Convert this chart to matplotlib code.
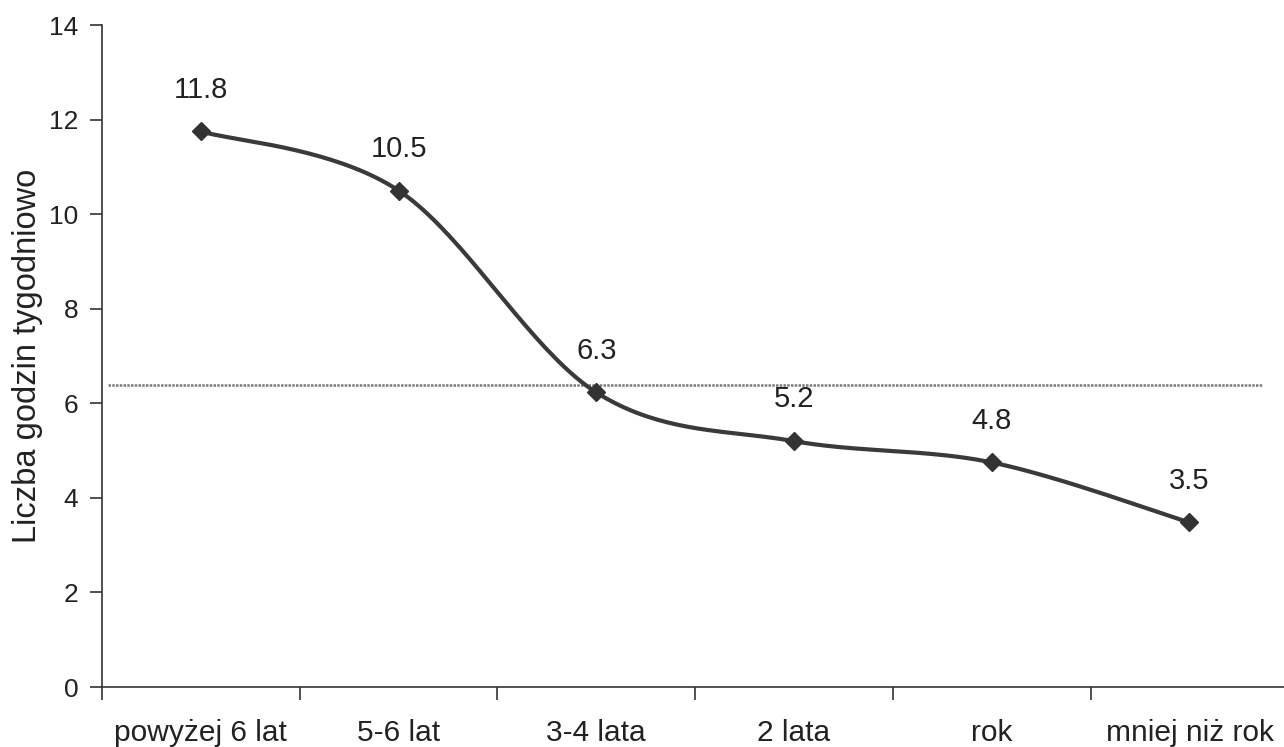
import numpy as np
import matplotlib
matplotlib.use("Agg")
from matplotlib import pyplot as plt

plt.rcParams['font.family'] = ['Liberation Sans', 'DejaVu Sans']

categories = ['powyżej 6 lat', '5-6 lat', '3-4 lata', '2 lata', 'rok', 'mniej niż rok']
values = [11.75, 10.5, 6.23, 5.2, 4.75, 3.48]
labels = ['11.8', '10.5', '6.3', '5.2', '4.8', '3.5']
ref_level = 6.38

# smoothed line like a spreadsheet chart (catmull-rom as bezier)
def smooth(xs, ys, n=40):
    pts = np.column_stack([xs, ys]).astype(float)
    out = []
    for i in range(len(pts) - 1):
        p0 = pts[i - 1] if i > 0 else pts[i]
        p1 = pts[i]
        p2 = pts[i + 1]
        p3 = pts[i + 2] if i + 2 < len(pts) else pts[i + 1]
        c1 = p1 + (p2 - p0) / 6
        c2 = p2 - (p3 - p1) / 6
        t = np.linspace(0, 1, n)[:, None]
        seg = ((1 - t) ** 3) * p1 + 3 * ((1 - t) ** 2) * t * c1 + 3 * (1 - t) * t ** 2 * c2 + t ** 3 * p2
        out.append(seg if i == 0 else seg[1:])
    out = np.vstack(out)
    return out[:, 0], out[:, 1]

x = np.arange(len(categories))

fig = plt.figure(figsize=(12.84, 7.47), dpi=100)
ax = fig.add_axes([0.0794, 0.0803, 0.924, 0.8862])

ax.axhline(ref_level, xmin=0.005, xmax=0.978, color='#7a7a7a', lw=1.8, ls=(0, (1, 0.5)))

sx, sy = smooth(x, values)
ax.plot(sx, sy, color='#3a3a3a', lw=3.0, solid_capstyle='round')
ax.plot(x, values, ls='none', marker='D', markersize=9.5, color='#333333')

for xi, v, lab in zip(x, values, labels):
    ax.annotate(lab, (xi, v), xytext=(0, 30), textcoords='offset points',
                ha='center', va='center', fontsize=21, color='#222222')

ax.set_xlim(-0.5, len(categories) - 0.5)
ax.set_ylim(0, 14)
ax.set_yticks(np.arange(0, 15, 2))
ax.set_xticks(x)
ax.set_xticklabels(categories, fontsize=21.5, color='#222222')
ax.set_xticks(np.arange(-0.5, len(categories), 1), minor=True)
ax.tick_params(axis='x', which='major', length=0, pad=23)
ax.tick_params(axis='x', which='minor', length=9, width=1.2, direction='out', color='#333333')
ax.tick_params(axis='y', length=9, width=1.2, labelsize=19, labelcolor='#222222', color='#333333', pad=8)
ax.set_ylabel('Liczba godzin tygodniowo', fontsize=23.5, color='#222222', labelpad=4)

for s in ['top', 'right']:
    ax.spines[s].set_visible(False)
for s in ['left', 'bottom']:
    ax.spines[s].set_color('#333333')
    ax.spines[s].set_linewidth(1.2)

fig.savefig('out.png', dpi=100)
